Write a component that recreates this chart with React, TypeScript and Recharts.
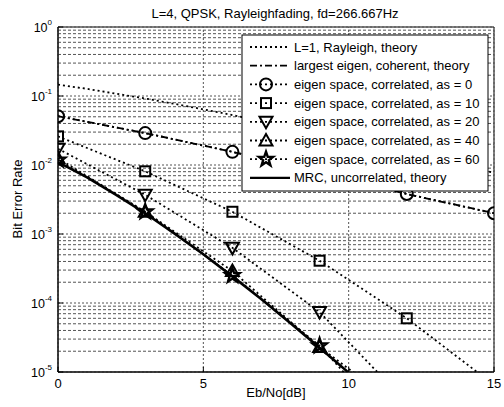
import React from 'react';
import { LineChart, Line, XAxis, YAxis, ReferenceLine, ReferenceArea } from 'recharts';

const TITLE = 'L=4, QPSK, Rayleighfading, fd=266.667Hz';
const X_LABEL = 'Eb/No[dB]';
const Y_LABEL = 'Bit Error Rate';

const xTicks = [0, 5, 10, 15];
const yTicks = [1e-5, 1e-4, 1e-3, 1e-2, 1e-1, 1];
const yExps = ['-5', '-4', '-3', '-2', '-1', '0'];
const minorMultipliers = [2, 3, 4, 5, 6, 7, 8, 9];

// L=1 Rayleigh theory (read per dB)
const theoryEbNo = [0, 1, 2, 3, 4, 5, 6, 7, 8, 9, 10, 11, 12, 13, 14, 15];
const rayleighL1 = [0.146, 0.127, 0.108, 0.092, 0.077, 0.064, 0.053, 0.0435, 0.0355, 0.0288, 0.0233, 0.0187, 0.0151, 0.0121, 0.0097, 0.0077];

// MRC, uncorrelated, theory
const mrcEbNo = [0, 1, 2, 3, 4, 5, 6, 7, 8, 9, 10, 11];
const mrcTheory = [0.011, 0.0066, 0.0037, 0.002, 0.00102, 0.00051, 0.000243, 0.000113, 0.000051, 0.0000225, 0.0000098, 0.0000041];

// simulated points
const simEbNo = [0, 3, 6, 9, 12, 15];
const eigenCoherent = [0.051, 0.029, 0.0155, 0.0078, 0.0038, 0.002];
const as0 = [0.051, 0.029, 0.0155, 0.0078, 0.0038, 0.002];
const as10 = [0.026, 0.0081, 0.0021, 0.00041, 0.00006, 0.0000065];
const as20 = [0.0172, 0.0037, 0.00063, 0.000074, 0.0000036];
const as40 = [0.0125, 0.0021, 0.00029, 0.000023, 0.0000026];
const as60 = [0.0118, 0.0021, 0.00025, 0.000024, 0.000001];

const legendLabels = [
  'L=1, Rayleigh, theory',
  'largest eigen, coherent, theory',
  'eigen space, correlated, as = 0',
  'eigen space, correlated, as = 10',
  'eigen space, correlated, as = 20',
  'eigen space, correlated, as = 40',
  'eigen space, correlated, as = 60',
  'MRC, uncorrelated, theory',
];

const toPoints = (xs: number[], ys: number[]) => ys.map((y, i) => ({ x: xs[i], y }));

const minorGrid: number[] = [];
yTicks.slice(0, -1).forEach((d) => minorMultipliers.forEach((m) => minorGrid.push(d * m)));

const DOTTED = '2 3';
const DASHDOT = '7 3 2 3';
const FONT = '"Liberation Sans", Arial, sans-serif';

type Shape = 'circle' | 'square' | 'tdown' | 'tup' | 'star';

function starPath(cx: number, cy: number, ro: number, ri: number) {
  const pts: string[] = [];
  for (let i = 0; i < 10; i++) {
    const r = i % 2 === 0 ? ro : ri;
    const a = -Math.PI / 2 + (i * Math.PI) / 5;
    pts.push(`${(cx + r * Math.cos(a)).toFixed(2)},${(cy + r * Math.sin(a)).toFixed(2)}`);
  }
  return 'M' + pts.join('L') + 'Z';
}

function Marker({ shape, cx, cy }: { shape: Shape; cx: number; cy: number }) {
  const common = { fill: 'none', stroke: '#000', strokeWidth: 2 };
  if (shape === 'circle') return <circle cx={cx} cy={cy} r={6} {...common} />;
  if (shape === 'square') return <rect x={cx - 5} y={cy - 5} width={10} height={10} {...common} />;
  if (shape === 'tdown')
    return <path d={`M${cx - 6.5},${cy - 5}L${cx + 6.5},${cy - 5}L${cx},${cy + 6.5}Z`} {...common} />;
  if (shape === 'tup')
    return <path d={`M${cx - 6.5},${cy + 5}L${cx + 6.5},${cy + 5}L${cx},${cy - 6.5}Z`} {...common} />;
  return <path d={starPath(cx, cy, 7.5, 3)} {...common} strokeWidth={2.4} />;
}

const makeDot = (shape: Shape) => (props: any) => {
  const { cx, cy, index } = props;
  if (cx == null || cy == null || !isFinite(cx) || !isFinite(cy)) return <g key={`d-${shape}-${index}`} />;
  return (
    <g key={`d-${shape}-${index}`}>
      <Marker shape={shape} cx={cx} cy={cy} />
    </g>
  );
};

const XTick = (props: any) => {
  const { x, y, payload } = props;
  return (
    <g>
      <line x1={x} x2={x} y1={y} y2={y - 5} stroke="#000" />
      <text x={x} y={y + 16} textAnchor="middle" fontSize={13} fontFamily={FONT} fill="#000">
        {payload.value}
      </text>
    </g>
  );
};

const YTick = (props: any) => {
  const { x, y, payload, index } = props;
  const i = yTicks.indexOf(payload.value);
  return (
    <g>
      <line x1={x} x2={x + 5} y1={y} y2={y} stroke="#000" />
      <text x={x - 6} y={y + 5} textAnchor="end" fontSize={12.5} fontFamily={FONT} fill="#000">
        10
        <tspan dy={-7} fontSize={8}>
          {yExps[i >= 0 ? i : index]}
        </tspan>
      </text>
    </g>
  );
};

const legendStyles: { dash?: string; shape?: Shape; width: number }[] = [
  { dash: DOTTED, width: 1.8 },
  { dash: DASHDOT, width: 1.8 },
  { dash: DOTTED, shape: 'circle', width: 1.8 },
  { dash: DOTTED, shape: 'square', width: 1.8 },
  { dash: DOTTED, shape: 'tdown', width: 1.8 },
  { dash: DOTTED, shape: 'tup', width: 1.8 },
  { dash: DOTTED, shape: 'star', width: 1.8 },
  { width: 2.4 },
];

export default function App() {
  return (
    <div style={{ position: 'absolute', left: 0, top: 0, width: 504, height: 407, background: '#fff' }}>
      <LineChart width={504} height={407} margin={{ top: 27, right: 10, bottom: 0, left: 0 }}>
        {minorGrid.map((v) => (
          <ReferenceLine key={`m${v}`} y={v} stroke="#555" strokeDasharray="3 2" strokeWidth={1} />
        ))}
        {yTicks.map((v) => (
          <ReferenceLine key={`M${v}`} y={v} stroke="#555" strokeDasharray="2 2" strokeWidth={1} />
        ))}
        {xTicks.map((v) => (
          <ReferenceLine key={`X${v}`} x={v} stroke="#555" strokeDasharray="2 2" strokeWidth={1} />
        ))}
        <XAxis
          dataKey="x"
          type="number"
          domain={[0, 15]}
          ticks={xTicks}
          allowDataOverflow
          height={35}
          tickSize={0}
          tickMargin={0}
          tickLine={false}
          axisLine={{ stroke: '#000' }}
          tick={<XTick />}
          interval={0}
        />
        <YAxis
          dataKey="y"
          type="number"
          scale="log"
          domain={[1e-5, 1]}
          ticks={yTicks}
          allowDataOverflow
          width={58}
          tickSize={0}
          tickMargin={0}
          tickLine={false}
          axisLine={{ stroke: '#000' }}
          tick={<YTick />}
          interval={0}
        />
        <ReferenceArea x1={0} x2={15} y1={1e-5} y2={1} fill="none" stroke="#000" strokeWidth={1} />
        <Line data={toPoints(theoryEbNo, rayleighL1)} dataKey="y" stroke="#000" strokeWidth={1.8} strokeDasharray={DOTTED} dot={false} isAnimationActive={false} />
        <Line data={toPoints(simEbNo, eigenCoherent)} dataKey="y" stroke="#000" strokeWidth={1.8} strokeDasharray={DASHDOT} dot={false} isAnimationActive={false} />
        <Line data={toPoints(simEbNo, as0)} dataKey="y" stroke="#000" strokeWidth={1.8} strokeDasharray={DOTTED} dot={makeDot('circle')} isAnimationActive={false} />
        <Line data={toPoints(simEbNo, as10)} dataKey="y" stroke="#000" strokeWidth={1.8} strokeDasharray={DOTTED} dot={makeDot('square')} isAnimationActive={false} />
        <Line data={toPoints(simEbNo, as20)} dataKey="y" stroke="#000" strokeWidth={1.8} strokeDasharray={DOTTED} dot={makeDot('tdown')} isAnimationActive={false} />
        <Line data={toPoints(simEbNo, as40)} dataKey="y" stroke="#000" strokeWidth={1.8} strokeDasharray={DOTTED} dot={makeDot('tup')} isAnimationActive={false} />
        <Line data={toPoints(simEbNo, as60)} dataKey="y" stroke="#000" strokeWidth={1.8} strokeDasharray={DOTTED} dot={makeDot('star')} isAnimationActive={false} />
        <Line data={toPoints(mrcEbNo, mrcTheory)} dataKey="y" stroke="#000" strokeWidth={2.6} dot={false} isAnimationActive={false} />
      </LineChart>
      <svg width={504} height={407} style={{ position: 'absolute', left: 0, top: 0, pointerEvents: 'none' }}>
        <text x={275} y={18} textAnchor="middle" fontSize={13} fontFamily={FONT} fill="#000">
          {TITLE}
        </text>
        <text x={276} y={397} textAnchor="middle" fontSize={13} fontFamily={FONT} fill="#000">
          {X_LABEL}
        </text>
        <text
          x={0}
          y={0}
          transform="translate(22,199) rotate(-90)"
          textAnchor="middle"
          fontSize={13}
          fontFamily={FONT}
          fill="#000"
        >
          {Y_LABEL}
        </text>
        <g transform="translate(242,35)">
          <rect x={0} y={0} width={246} height={156} fill="#fff" stroke="#000" strokeWidth={1} />
          {legendLabels.map((label, i) => {
            const s = legendStyles[i];
            const cy = 12 + i * 18.7;
            return (
              <g key={label}>
                <line x1={8} x2={48} y1={cy} y2={cy} stroke="#000" strokeWidth={s.width} strokeDasharray={s.dash} />
                {s.shape && <Marker shape={s.shape} cx={24} cy={cy} />}
                <text x={52} y={cy + 4.5} fontSize={13} fontFamily={FONT} fill="#000">
                  {label}
                </text>
              </g>
            );
          })}
        </g>
      </svg>
    </div>
  );
}
